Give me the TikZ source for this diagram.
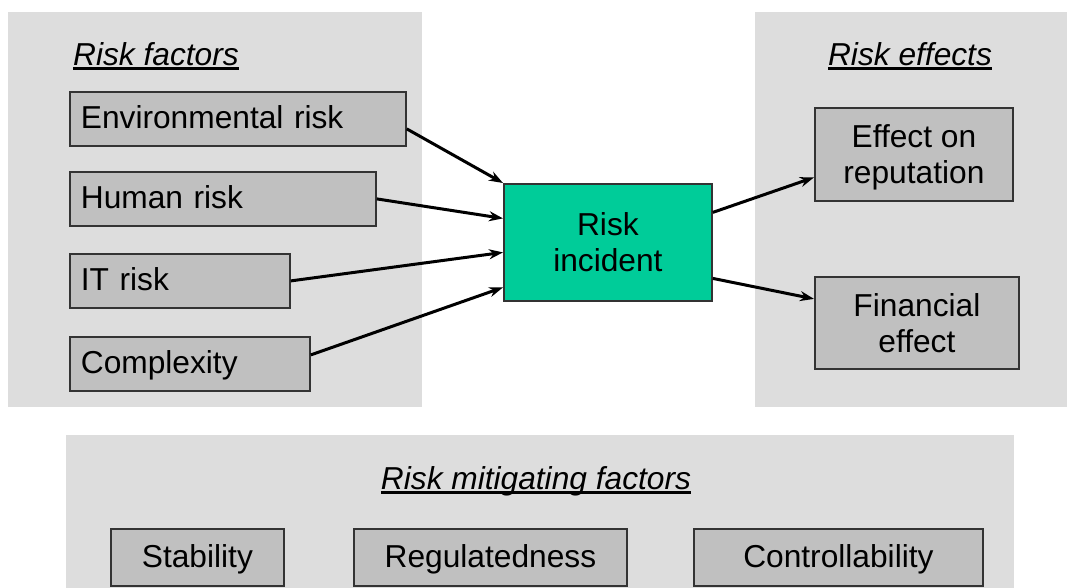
\documentclass[tikz,border=0pt]{standalone}
\usepackage{fontspec}
\setmainfont{Liberation Sans}
\usetikzlibrary{arrows.meta}

\definecolor{panelgray}{HTML}{DDDDDD}
\definecolor{boxgray}{HTML}{C0C0C0}
\definecolor{incidentgreen}{HTML}{00CC99}
% underline that sits just under the baseline
\newsavebox{\ulinebox}
\newcommand{\titleline}[1]{\sbox{\ulinebox}{#1}\rlap{\rule[-4.5pt]{\wd\ulinebox}{3pt}}\usebox{\ulinebox}}

\begin{document}
\begin{tikzpicture}[x=1pt, y=-1pt,
    font=\fontsize{31.7}{36}\selectfont,
    panel/.style={fill=panelgray, draw=none},
    paneltitle/.style={font=\fontsize{31.7}{36}\selectfont\itshape, inner sep=0pt},
    riskbox/.style={draw=black!80, line width=1.8pt, fill=boxgray, inner sep=0pt},
    factorbox/.style={riskbox, anchor=north west, align=left, inner xsep=11pt,
        minimum height=54pt, text height=22pt, text depth=2pt},
    effectbox/.style={riskbox, anchor=north west, align=center},
    mitigbox/.style={riskbox, anchor=north west, minimum height=57pt,
        text height=22pt, text depth=2pt},
    link/.style={line width=3pt, -{Stealth[length=14pt,width=10pt]}}]
    \useasboundingbox (0,0) rectangle (1067,588);

    % Panels
    \fill[panel] (8,12) rectangle (422,407);
    \fill[panel] (755,12) rectangle (1067,407);
    \fill[panel] (66,435) rectangle (1014,588);

    % Panel titles
    \node[paneltitle, anchor=base west] (factorstitle) at (73,66) {\titleline{Risk factors}};
    \node[paneltitle, anchor=base] (effectstitle) at (910,66) {\titleline{Risk effects}};
    \node[paneltitle, anchor=base] (mitigtitle) at (536,489) {\titleline{Risk mitigating factors}};

    % Risk factors
    \node[factorbox, text width=314pt] (env) at (69,91) {Environmental risk};
    \node[factorbox, text width=284pt] (human) at (69,171) {Human risk};
    \node[factorbox, text width=198pt] (itrisk) at (69,253) {IT risk};
    \node[factorbox, text width=218pt] (complexity) at (69,336) {Complexity};

    % Incident
    \node[effectbox, fill=incidentgreen, minimum width=208pt, minimum height=117pt]
        (incident) at (503,183) {Risk\\incident};

    % Risk effects
    \node[effectbox, minimum width=198pt, minimum height=93pt, text depth=0pt]
        (reputation) at (814,107) {Effect on\\reputation};
    \node[effectbox, minimum width=204pt, minimum height=92pt]
        (financial) at (814,276) {Financial\\effect};

    % Mitigating factors
    \node[mitigbox, minimum width=173pt] (stability) at (110,528) {Stability};
    \node[mitigbox, minimum width=273pt] (regulated) at (353,528) {Regulatedness};
    \node[mitigbox, minimum width=289pt] (control) at (693,528) {Controllability};

    % Connectors
    \draw[link] ([yshift=-10pt]env.east) -- (incident.north west);
    \draw[link] (human.east) -- ([yshift=24pt]incident.west);
    \draw[link] (itrisk.east) -- ([yshift=-10pt]incident.west);
    \draw[link] ([yshift=9pt]complexity.east) -- ([yshift=-45pt]incident.west);
    \draw[link] ([yshift=30pt]incident.east) -- ([yshift=-23pt]reputation.west);
    \draw[link] ([yshift=-36pt]incident.east) -- ([yshift=24pt]financial.west);
\end{tikzpicture}
\end{document}
